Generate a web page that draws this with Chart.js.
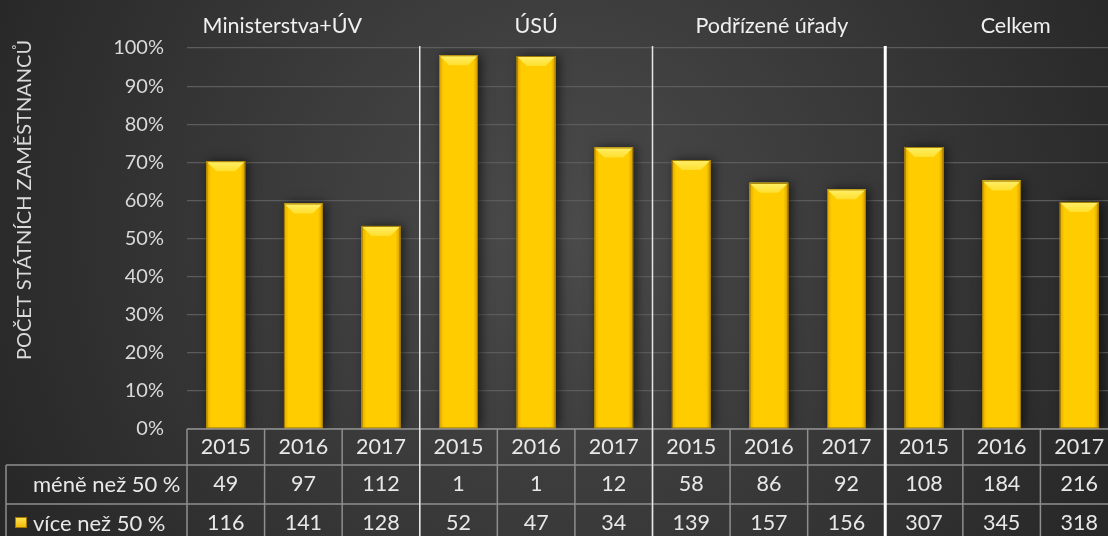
<!DOCTYPE html>
<html><head><meta charset="utf-8">
<script src="https://cdn.jsdelivr.net/npm/chart.js@4.4.1/dist/chart.umd.min.js"></script>
<style>
html,body{margin:0;padding:0;background:#2b2b2b;overflow:hidden}
#wrap{width:1108px;height:536px;overflow:hidden;position:relative}
canvas{display:block}
</style></head>
<body><div id="wrap"><canvas id="c" width="1118" height="536"></canvas></div>
<script>
// ---- data ----
const groups = ['Ministerstva+ÚV', 'ÚSÚ', 'Podřízené úřady', 'Celkem'];
const years = ['2015','2016','2017','2015','2016','2017','2015','2016','2017','2015','2016','2017'];
const seriesNames = ['méně než 50 %', 'více než 50 %'];
const lessCounts = [49, 97, 112, 1, 1, 12, 58, 86, 92, 108, 184, 216];
const moreCounts = [116, 141, 128, 52, 47, 34, 139, 157, 156, 307, 345, 318];
// share of "více než 50 %" in each column (100 % stacked)
const moreShare = [70.3, 59.2, 53.3, 98.1, 97.9, 73.9, 70.6, 64.6, 62.9, 74.0, 65.2, 59.6];
const yTitle = 'POČET STÁTNÍCH ZAMĚSTNANCŮ';

const FONT = 'Lato, "Open Sans", sans-serif';

const bgPlugin = {
  id: 'bg',
  beforeDraw(chart) {
    const ctx = chart.ctx;
    const g = ctx.createRadialGradient(560, 230, 0, 560, 230, 640);
    g.addColorStop(0, '#4b4b4b');
    g.addColorStop(1, '#262626');
    ctx.save();
    ctx.fillStyle = g;
    ctx.fillRect(0, 0, chart.width, chart.height);
    ctx.restore();
  }
};

const barFx = {
  id: 'barfx',
  beforeDatasetsDraw(chart) {
    const ctx = chart.ctx;
    ctx.save();
    ctx.shadowColor = 'rgba(0,0,0,0.6)';
    ctx.shadowBlur = 10;
    ctx.shadowOffsetX = 3;
    ctx.shadowOffsetY = 0;
  },
  afterDatasetsDraw(chart) {
    const ctx = chart.ctx;
    ctx.restore();
    const meta = chart.getDatasetMeta(0);
    meta.data.forEach(el => {
      const p = el.getProps(['x', 'y', 'base', 'width'], true);
      const l = p.x - p.width / 2, r = p.x + p.width / 2, t = p.y, b = p.base;
      ctx.save();
      const hg = ctx.createLinearGradient(l, 0, r, 0);
      hg.addColorStop(0, '#e3a800');
      hg.addColorStop(0.12, '#ffcc00');
      hg.addColorStop(0.88, '#ffcc00');
      hg.addColorStop(1, '#d49b00');
      ctx.fillStyle = hg;
      ctx.fillRect(l, t, r - l, b - t);
      const bv = 10;
      const vg = ctx.createLinearGradient(0, t, 0, t + bv);
      vg.addColorStop(0, '#fff06a');
      vg.addColorStop(1, '#ffdf2e');
      ctx.fillStyle = vg;
      ctx.beginPath();
      ctx.moveTo(l, t); ctx.lineTo(r, t); ctx.lineTo(r - bv, t + bv); ctx.lineTo(l + bv, t + bv);
      ctx.closePath(); ctx.fill();
      ctx.strokeStyle = '#a07a00';
      ctx.lineWidth = 1;
      ctx.strokeRect(l + 0.5, t + 0.5, r - l - 1, b - t - 1);
      ctx.restore();
    });
  }
};

const tablePlugin = {
  id: 'table',
  afterDraw(chart) {
    const ctx = chart.ctx, xs = chart.scales.x, ca = chart.chartArea;
    const n = years.length;
    const colW = xs.getPixelForValue(1) - xs.getPixelForValue(0);
    const bound = k => xs.getPixelForValue(0) - colW / 2 + k * colW;
    const r0 = ca.bottom, r1 = r0 + 36, r2 = r1 + 39, r3 = r2 + 39;
    const H = chart.height;
    ctx.save();
    ctx.strokeStyle = '#8e8e8e';
    ctx.lineWidth = 1.5;
    ctx.beginPath();
    ctx.moveTo(ca.left, r0); ctx.lineTo(ca.right, r0);
    ctx.moveTo(6, r1); ctx.lineTo(ca.right, r1);
    ctx.moveTo(6, r2); ctx.lineTo(ca.right, r2);
    ctx.moveTo(6, r1); ctx.lineTo(6, H);
    for (let k = 0; k <= n; k++) {
      ctx.moveTo(bound(k), r0); ctx.lineTo(bound(k), H);
    }
    ctx.stroke();

    const sepW = [1.5, 1.5, 3];
    const sepC = ['#e6e6e6', '#e6e6e6', '#ffffff'];
    for (let g = 1; g < groups.length; g++) {
      const x = bound(g * 3);
      ctx.strokeStyle = sepC[g - 1];
      ctx.lineWidth = sepW[g - 1];
      ctx.beginPath();
      ctx.moveTo(x, ca.top - 2); ctx.lineTo(x, H);
      ctx.stroke();
    }

    ctx.fillStyle = '#e8e8e8';
    ctx.font = '21.5px ' + FONT;
    ctx.textAlign = 'center';
    ctx.textBaseline = 'middle';
    for (let i = 0; i < n; i++) {
      const cx = xs.getPixelForValue(i);
      ctx.fillText(years[i], cx, (r0 + r1) / 2);
      ctx.fillText(String(lessCounts[i]), cx, (r1 + r2) / 2);
      ctx.fillText(String(moreCounts[i]), cx, (r2 + r3) / 2);
    }
    ctx.textAlign = 'left';
    ctx.font = '22px ' + FONT;
    ctx.fillText(seriesNames[0], 33, (r1 + r2) / 2);
    ctx.fillText(seriesNames[1], 33, (r2 + r3) / 2);
    const kg = ctx.createLinearGradient(0, 517, 0, 528);
    kg.addColorStop(0, '#ffe45a');
    kg.addColorStop(1, '#f0b800');
    ctx.fillStyle = kg;
    ctx.fillRect(15, 517, 12, 11);
    ctx.strokeStyle = '#a07a00';
    ctx.lineWidth = 1;
    ctx.strokeRect(15.5, 517.5, 11, 10);

    const offs = [-21, 0, 3, 14];
    ctx.fillStyle = '#f0f0f0';
    ctx.font = '21.5px ' + FONT;
    ctx.textAlign = 'center';
    groups.forEach((name, g) => {
      const cx = xs.getPixelForValue(g * 3 + 1) + offs[g];
      ctx.fillText(name, cx, 26);
    });

    ctx.save();
    ctx.translate(25, 200);
    ctx.rotate(-Math.PI / 2);
    ctx.fillStyle = '#d9d9d9';
    ctx.font = '20px ' + FONT;
    ctx.textAlign = 'center';
    ctx.textBaseline = 'middle';
    ctx.fillText(yTitle, 0, 0);
    ctx.restore();
    ctx.restore();
  }
};

new Chart(document.getElementById('c'), {
  type: 'bar',
  data: {
    labels: years,
    datasets: [{
      label: seriesNames[1],
      data: moreShare,
      backgroundColor: '#ffcc00',
      borderWidth: 0,
      barPercentage: 0.5,
      categoryPercentage: 1
    }]
  },
  options: {
    responsive: false,
    animation: false,
    devicePixelRatio: 1,
    layout: { padding: { top: 48, left: 0, right: 0, bottom: 0 } },
    plugins: { legend: { display: false }, tooltip: { enabled: false }, title: { display: false } },
    scales: {
      x: {
        ticks: { display: false },
        grid: { display: false },
        border: { display: false },
        afterFit(s) { s.height = 107; }
      },
      y: {
        min: 0, max: 100,
        ticks: {
          stepSize: 10,
          callback: v => v + '%',
          color: '#d9d9d9',
          font: { family: FONT, size: 20 },
          padding: 23
        },
        grid: { color: '#5c5c5c', lineWidth: 1.2, drawTicks: false },
        border: { display: false },
        afterFit(s) { s.width = 187; }
      }
    }
  },
  plugins: [bgPlugin, barFx, tablePlugin]
});
</script>
</body></html>
